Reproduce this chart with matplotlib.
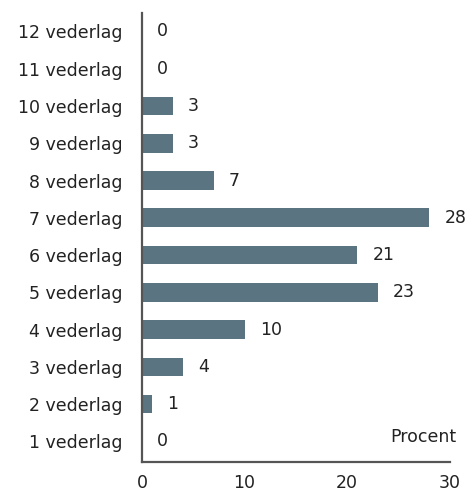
import numpy as np
import matplotlib
matplotlib.use("Agg")
import matplotlib.pyplot as plt

categories = ["1 vederlag", "2 vederlag", "3 vederlag", "4 vederlag", "5 vederlag",
              "6 vederlag", "7 vederlag", "8 vederlag", "9 vederlag", "10 vederlag",
              "11 vederlag", "12 vederlag"]
percent = [0, 1, 4, 10, 23, 21, 28, 7, 3, 3, 0, 0]
xticks = [0, 10, 20, 30]

bar_color = "#5a7482"
axis_color = "#555555"
text_color = "#222222"

plt.rcParams["font.family"] = ["DejaVu Sans"]

fig = plt.figure(figsize=(4.70, 4.93), dpi=100)
ax = fig.add_axes([0.302, 0.063, 0.655, 0.911])

pos = np.arange(len(categories))
ax.barh(pos, percent, height=0.5, color=bar_color)

for p, v in zip(pos, percent):
    ax.annotate(f"{v}", xy=(v, p), xytext=(11, 0), textcoords="offset points",
                ha="left", va="center", fontsize=12.5, color=text_color)

ax.set_xlim(0, 30)
ax.set_ylim(-0.55, 11.5)
ax.set_yticks(pos)
ax.set_yticklabels(categories)
ax.set_xticks(xticks)
ax.tick_params(axis="both", length=0, labelsize=12.5, colors=text_color)
ax.tick_params(axis="x", pad=9)
ax.tick_params(axis="y", pad=14)

for side in ["top", "right"]:
    ax.spines[side].set_visible(False)
for side in ["left", "bottom"]:
    ax.spines[side].set_color(axis_color)
    ax.spines[side].set_linewidth(1.6)

ax.text(1.02, 0.055, "Procent", transform=ax.transAxes, ha="right", va="center",
        fontsize=12.5, color=text_color)

fig.savefig("out.png", dpi=100)
